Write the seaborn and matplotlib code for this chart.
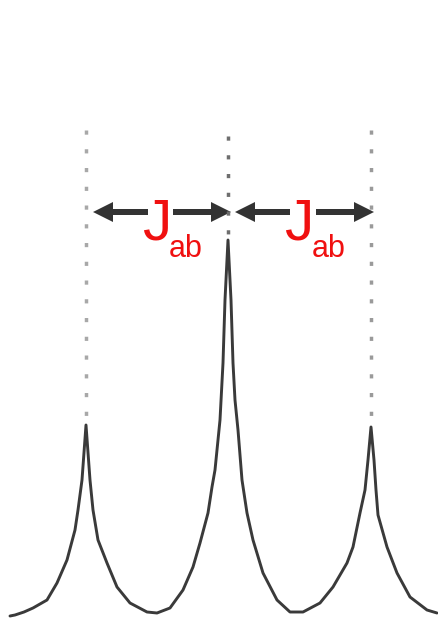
import matplotlib
matplotlib.use("Agg")
import matplotlib.pyplot as plt
import seaborn as sns
import pandas as pd

# === Datos (intensidad = altura sobre la base) ===
trace_x = [10, 15, 24, 33, 47, 57, 67, 75, 78, 82, 86, 90, 93, 98, 107, 117,
           130, 147, 157, 170, 183, 193, 200, 204, 208, 212, 215, 220, 223, 225,
           228, 231, 233, 235, 238, 242, 247, 253, 263, 277, 290, 303, 320, 333,
           347, 353, 360, 365, 368, 371, 374, 376, 378, 387, 397, 410, 427, 437]
trace_y = [4, 5, 8, 12, 20, 37, 60, 90, 110, 140, 195, 140, 110, 80, 57, 33,
           17, 8, 7, 12, 30, 53, 77, 92, 107, 133, 150, 200, 257, 320,
           380, 320, 257, 220, 190, 140, 107, 80, 47, 20, 8, 8, 17, 33,
           57, 73, 107, 130, 160, 193, 160, 130, 105, 73, 47, 23, 10, 7]

peak_x = [86, 228, 371]
peak_top = [199, 384, 197]      # donde termina la línea punteada
guide_top = [490, 484, 490]     # inicio de la línea punteada
guide_color = ["#a8a8a8", "#6e6e6e", "#9a9a9a"]
j_label = "J"
j_sub = "ab"

ARROW_Y = 408
TXT_RED = "#f01010"
INK = "#333333"

df = pd.DataFrame({"x": trace_x, "y": trace_y})

sns.set_style("white")
plt.rcParams["font.family"] = ["Liberation Sans", "DejaVu Sans"]

fig = plt.figure(figsize=(4.38, 6.2), dpi=100)
ax = fig.add_axes([0, 0, 1, 1])

# espectro (triplete)
sns.lineplot(data=df, x="x", y="y", color="#3a3a3a", linewidth=2.1, ax=ax)

# líneas punteadas sobre cada pico
for px, top, bot, c in zip(peak_x, guide_top, peak_top, guide_color):
    ax.plot([px, px], [top, bot], color=c, linewidth=2.5,
            linestyle=(0, (1.2, 4.2)), solid_capstyle="butt")

# flechas dobles y etiquetas J_ab entre picos vecinos
for a, b in zip(peak_x[:-1], peak_x[1:]):
    mid = (a + b) / 2
    ax.arrow(a + 62, ARROW_Y, -55, 0, width=6, head_width=20, head_length=20,
             length_includes_head=True, color=INK, lw=0)
    ax.arrow(b - 55, ARROW_Y, 58, 0, width=6, head_width=20, head_length=20,
             length_includes_head=True, color=INK, lw=0)
    ax.text(mid - 15, 380, j_label, color=TXT_RED, fontsize=42,
            ha="left", va="baseline")
    ax.text(mid + 12, 363, j_sub, color=TXT_RED, fontsize=22,
            ha="left", va="baseline")

ax.set_xlim(0, 438)
ax.set_ylim(0, 620)
ax.axis("off")

fig.savefig("out.png", dpi=100)
